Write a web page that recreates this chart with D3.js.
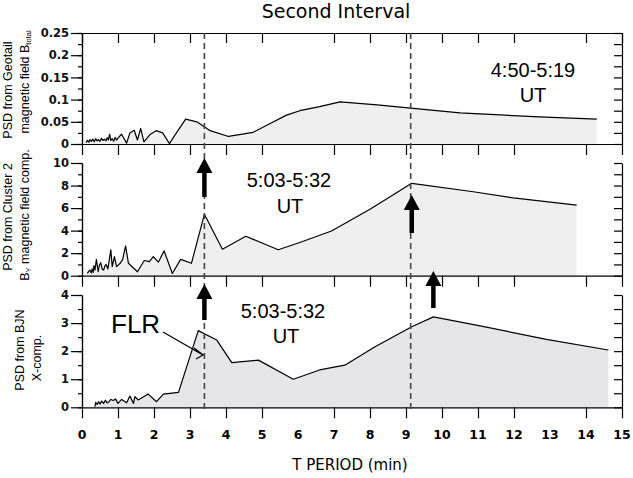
<!DOCTYPE html>
<html>
<head>
<meta charset="utf-8">
<script src="https://cdn.jsdelivr.net/npm/d3@7"></script>
<style>
  body { margin: 0; background: #fff; }
  svg text { fill: #000; }
  .axis path, .axis line { stroke: #000; stroke-width: 1.2; }
</style>
</head>
<body>
<div id="viz"></div>
<script>
// Geotail B_total PSD
var geoPeriod = [0.11,0.15,0.19,0.22,0.26,0.3,0.34,0.38,0.42,0.46,0.5,0.54,0.58,0.62,0.66,0.7,0.73,0.77,0.8,0.84,0.88,0.92,0.96,1.0,1.05,1.1,1.17,1.24,1.33,1.45,1.54,1.63,1.72,1.9,2.06,2.24,2.43,2.58,2.88,3.19,3.56,4.07,4.75,5.2,5.68,6.05,6.6,7.17,8.2,9.13,10.5,12.7,14.3];
var geoPsd    = [0.003,0.008,0.004,0.01,0.006,0.011,0.005,0.012,0.007,0.01,0.006,0.013,0.008,0.011,0.007,0.014,0.009,0.022,0.008,0.012,0.006,0.015,0.009,0.013,0.018,0.022,0.012,0.002,0.025,0.031,0.009,0.035,0.005,0.022,0.03,0.025,0.001,0.02,0.056,0.05,0.03,0.017,0.026,0.045,0.065,0.075,0.084,0.095,0.088,0.081,0.07,0.061,0.056];

// Cluster 2 By PSD
var cluPeriod = [0.15,0.19,0.22,0.26,0.28,0.31,0.33,0.36,0.4,0.45,0.48,0.52,0.56,0.6,0.64,0.67,0.72,0.76,0.8,0.84,0.9,0.96,1.06,1.13,1.21,1.29,1.54,1.73,1.87,1.98,2.12,2.28,2.51,2.74,3.04,3.4,3.9,4.55,5.45,6.05,6.93,8.0,9.16,10.87,11.98,13.74];
var cluPsd    = [0.2,0.4,0.5,0.25,0.6,0.3,0.9,0.5,1.45,0.35,0.9,1.15,0.6,0.5,0.9,1.0,0.6,1.45,2.3,0.8,1.7,0.8,1.1,1.45,2.65,1.1,0.35,1.35,1.25,1.7,1.2,2.2,0.2,1.45,1.1,5.45,2.35,3.5,2.3,2.95,3.97,5.9,8.2,7.45,6.9,6.27];

// BJN X-comp PSD
var bjnPeriod = [0.36,0.38,0.42,0.46,0.5,0.55,0.6,0.65,0.7,0.75,0.8,0.87,0.93,1.0,1.1,1.24,1.33,1.43,1.47,1.56,1.84,2.07,2.26,2.68,3.23,3.74,4.16,4.9,5.87,6.6,7.3,8.14,9.16,9.76,11.06,12.9,14.62];
var bjnPsd    = [0.02,0.18,0.1,0.2,0.12,0.22,0.14,0.25,0.16,0.2,0.28,0.24,0.3,0.14,0.28,0.16,0.4,0.14,0.38,0.26,0.47,0.2,0.47,0.53,2.73,2.4,1.59,1.68,1.0,1.33,1.5,2.16,2.87,3.22,2.9,2.42,2.04];

var xTicks = [0,1,2,3,4,5,7,8,9,10,11,12,14,15];
var xLabels = [0,1,2,3,4,5,6,7,8,9,10,11,12,13,14,15];
var markers = [3.4, 9.13];

var width = 633, height = 478;

var svg = d3.select("#viz").append("svg")
    .attr("width", width)
    .attr("height", height);

var x = d3.scaleLinear().domain([0, 15]).range([82, 622]);

var panels = [
  {per: geoPeriod, psd: geoPsd, max: 0.25, major: 0.05, minor: 0.025, top: 33, bottom: 144, fill: "#efefef",
   fmt: d3.format("")},
  {per: cluPeriod, psd: cluPsd, max: 10, major: 2, minor: 1, top: 163, bottom: 275.7, fill: "#efefef",
   fmt: d3.format("d")},
  {per: bjnPeriod, psd: bjnPsd, max: 4, major: 1, minor: 0.5, top: 295, bottom: 407.3, fill: "#e6e6e9",
   fmt: d3.format("d")}
];

function range(step, max) {
  var out = [];
  for (var i = 0; i * step <= max + 1e-9; i++) out.push(+(i * step).toFixed(4));
  return out;
}

panels.forEach(function(p, i) {
  var y = d3.scaleLinear().domain([0, p.max]).range([p.bottom, p.top]);
  var pts = p.per.map(function(d, k) { return [d, p.psd[k]]; });

  svg.append("path")
      .datum(pts)
      .attr("fill", p.fill)
      .attr("d", d3.area().x(function(d) { return x(d[0]); }).y0(y(0)).y1(function(d) { return y(d[1]); }));

  svg.append("path")
      .datum(pts)
      .attr("fill", "none")
      .attr("stroke", "#000")
      .attr("stroke-width", 1.2)
      .attr("stroke-linejoin", "round")
      .attr("d", d3.line().x(function(d) { return x(d[0]); }).y(function(d) { return y(d[1]); }));

  // left axis, minor ticks
  svg.append("g").attr("class", "axis")
      .attr("transform", "translate(82,0)")
      .call(d3.axisLeft(y).tickValues(range(p.minor, p.max)).tickSize(4).tickSizeOuter(0).tickFormat(""));
  // left axis, major ticks + labels
  svg.append("g").attr("class", "axis")
      .attr("transform", "translate(82,0)")
      .call(d3.axisLeft(y).tickValues(range(p.major, p.max)).tickSize(11).tickSizeOuter(0).tickPadding(2).tickFormat(p.fmt))
      .call(function(g) {
        g.selectAll("text")
            .attr("font-family", "DejaVu Sans, sans-serif")
            .attr("font-weight", "bold")
            .attr("font-size", 11.5)
            .style("fill", "#111");
      });

  // right axis, inward ticks
  svg.append("g").attr("class", "axis")
      .attr("transform", "translate(622,0)")
      .call(d3.axisLeft(y).tickValues(range(p.minor, p.max)).tickSize(8).tickSizeOuter(0).tickFormat(""));

  // bottom axis
  svg.append("g").attr("class", "axis")
      .attr("transform", "translate(0," + p.bottom + ")")
      .call(d3.axisBottom(x).tickValues(xTicks).tickSize(11).tickSizeOuter(0).tickFormat(""))
      .selectAll("line").attr("stroke-width", 1.5);
});

// top frame of first panel, inward ticks
svg.append("g").attr("class", "axis")
    .attr("transform", "translate(0," + panels[0].top + ")")
    .call(d3.axisBottom(x).tickValues(xTicks).tickSize(10).tickSizeOuter(0).tickFormat(""))
    .selectAll("line").attr("stroke-width", 1.5);

// x tick labels
svg.append("g").selectAll("text")
    .data(xLabels)
  .enter().append("text")
    .attr("x", function(d) { return x(d); })
    .attr("y", 439)
    .attr("text-anchor", "middle")
    .attr("font-family", "DejaVu Sans, sans-serif")
    .attr("font-weight", "bold")
    .attr("font-size", 12.5)
    .text(function(d) { return d; });

svg.append("text")
    .attr("x", 350).attr("y", 470)
    .attr("text-anchor", "middle")
    .attr("font-family", "DejaVu Sans, sans-serif")
    .attr("font-size", 15)
    .text("T PERIOD (min)");

svg.append("text")
    .attr("x", 336).attr("y", 18)
    .attr("text-anchor", "middle")
    .attr("font-family", "DejaVu Sans, sans-serif")
    .attr("font-size", 19)
    .text("Second Interval");

// dashed marker lines
svg.append("g").selectAll("line")
    .data(markers)
  .enter().append("line")
    .attr("x1", function(d) { return x(d); })
    .attr("x2", function(d) { return x(d); })
    .attr("y1", panels[0].top)
    .attr("y2", 412)
    .attr("stroke", "#444")
    .attr("stroke-width", 1.6)
    .attr("stroke-dasharray", "6,4");

// y titles
function yTitle(cx, cy, parts) {
  var t = svg.append("text")
      .attr("transform", "translate(" + cx + "," + cy + ") rotate(-90)")
      .attr("text-anchor", "middle")
      .attr("font-family", "Liberation Sans, Arial, sans-serif")
      .attr("font-size", 12.5);
  parts.forEach(function(s) {
    t.append("tspan")
        .attr("font-size", s.sub ? 7.5 : null)
        .attr("dy", s.dy || 0)
        .text(s.t);
  });
}
yTitle(12, 90, [{t: "PSD from Geotail"}]);
yTitle(29, 82, [{t: "magnetic field B"}, {t: "total", sub: true, dy: 2}]);
yTitle(12, 217, [{t: "PSD from Cluster 2"}]);
yTitle(29, 215, [{t: "B"}, {t: "Y", sub: true, dy: 2}, {t: " magnetic field comp.", dy: -2}]);
yTitle(24, 350, [{t: "PSD from BJN"}]);
yTitle(41, 358, [{t: "X-comp."}]);

// interval labels
var labels = [
  {x: 533, y: 77, t: "4:50-5:19"}, {x: 533, y: 102, t: "UT"},
  {x: 289, y: 187, t: "5:03-5:32"}, {x: 290, y: 213, t: "UT"},
  {x: 283, y: 318, t: "5:03-5:32"}, {x: 286, y: 343, t: "UT"}
];
svg.append("g").selectAll("text")
    .data(labels)
  .enter().append("text")
    .attr("x", function(d) { return d.x; })
    .attr("y", function(d) { return d.y; })
    .attr("text-anchor", "middle")
    .attr("font-family", "Liberation Sans, Arial, sans-serif")
    .attr("font-size", 20)
    .text(function(d) { return d.t; });

svg.append("text")
    .attr("x", 111).attr("y", 333)
    .attr("font-family", "Liberation Sans, Arial, sans-serif")
    .attr("font-size", 26)
    .text("FLR");

// FLR pointer
svg.append("path")
    .attr("d", "M163,332 L203,355 M194,348 L203,355 L196,359")
    .attr("fill", "none")
    .attr("stroke", "#000")
    .attr("stroke-width", 1.3);

// thick up arrows
var arrows = [
  {p: 3.4, tip: 158, base: 197},
  {p: 9.16, tip: 195, base: 233},
  {p: 3.4, tip: 284, base: 320},
  {p: 9.76, tip: 271, base: 308}
];
arrows.forEach(function(a) {
  var cx = x(a.p);
  svg.append("line")
      .attr("x1", cx).attr("x2", cx)
      .attr("y1", a.tip + 12).attr("y2", a.base)
      .attr("stroke", "#000").attr("stroke-width", 4.5);
  svg.append("path")
      .attr("d", "M" + cx + "," + a.tip + " L" + (cx - 8) + "," + (a.tip + 15) + " L" + (cx + 8) + "," + (a.tip + 15) + " Z")
      .attr("fill", "#000");
});
</script>
</body>
</html>
